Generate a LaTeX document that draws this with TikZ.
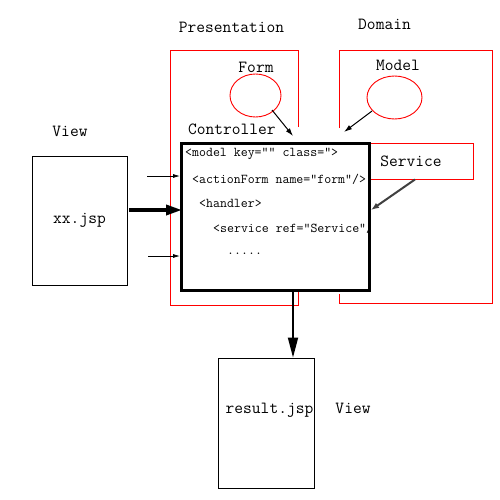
\documentclass[tikz,border=0pt]{standalone}
\usepackage{fontspec}
\usetikzlibrary{arrows.meta}
\begin{document}
\begin{tikzpicture}[x=1pt,y=-1pt,
  redline/.style={draw=red, line width=0.9pt},
  lbl/.style={inner sep=0pt, font=\ttfamily\fontsize{17}{17}\selectfont},
  code/.style={inner sep=0pt, anchor=west, font=\ttfamily\fontsize{13.5}{14}\selectfont},
  thinarrow/.style={line width=0.8pt, -{Latex[length=7pt,width=4pt]}},
  box/.style={draw, line width=0.9pt, inner sep=0pt}]
\useasboundingbox[fill=white] (0,0) rectangle (500,500);
% layer frames
\draw[redline] (298,127) -- (298,50) -- (170,50) -- (170,305) -- (298,305) -- (298,292);
\draw[redline] (339,128) -- (339,50) -- (492,50) -- (492,303) -- (339,303) -- (339,294);
% titles
\node[lbl] (tpres) at (231.5,27) {Presentation};
\node[lbl] (tdom) at (384.5,24) {Domain};
\node[lbl] (tview1) at (70,131) {View};
\node[lbl] (tview2) at (353,408) {View};
% form and model
\node[lbl] (tform) at (256,67) {Form};
\node[lbl] (tmodel) at (398,65) {Model};
\draw[redline] (255.5,95.5) ellipse [x radius=25.5, y radius=21.5];
\node[inner sep=0pt, minimum width=51pt, minimum height=43pt] (form) at (255.5,95.5) {};
\draw[redline] (394.5,97.5) ellipse [x radius=27.5, y radius=21.5];
\node[inner sep=0pt, minimum width=55pt, minimum height=43pt] (model) at (394.5,97.5) {};
% service
\node[draw=red, line width=0.9pt, inner sep=0pt, minimum width=124pt, minimum height=36pt, lbl] (service) at (411,161) {Service};
% controller
\node[lbl, anchor=west] (tctrl) at (188,129) {Controller};
\node[draw, line width=3pt, fill=white, inner sep=0pt, minimum width=188pt, minimum height=147pt] (ctrl) at (275.5,217) {};
\begin{scope}
\clip (183,145) rectangle (368,289);
\node[code] (c1) at (185,154) {<model key=”” class=”>};
\node[code] (c2) at (192,179) {<actionForm name=”form”/>};
\node[code] (c3) at (199,203) {<handler>};
\node[code] (c4) at (213,228) {<service ref=”Service”/>};
\node[code] (c5) at (227,254) {.....};
\end{scope}
% views
\node[box, minimum width=95pt, minimum height=129pt, lbl] (xx) at (79.5,220.5) {xx.jsp};
\node[box, minimum width=96pt, minimum height=130pt] (res) at (266,423) {};
\node[lbl] (tres) at (269.5,410) {result.jsp};
% arrows
\coordinate (a1s) at (147,176);
\coordinate (a1e) at (180,176);
\coordinate (a3s) at (148,256);
\coordinate (a3e) at (180,256);
\coordinate (a2s) at (129,210);
\coordinate (a2e) at (182,210);
\draw[thinarrow] (a1s) -- (a1e);
\draw[thinarrow] (a3s) -- (a3e);
\draw[line width=3.5pt, -{Triangle[length=16pt,width=10pt]}] (a2s) -- (a2e);
\coordinate (fe) at (293,136);
\coordinate (me) at (344,132);
\draw[line width=1pt, -{Latex[length=8pt,width=5pt]}] (272,110) -- (fe);
\draw[line width=1pt, -{Latex[length=8pt,width=5pt]}] (372,111) -- (me);
\coordinate (se) at (371,210);
\draw[line width=2pt, draw=black!75, -{Latex[length=8pt,width=6pt]}] ([xshift=4pt]service.south) -- (se);
\coordinate (ds) at (293,292);
\draw[line width=1.8pt, -{Triangle[length=20pt,width=10pt]}] (ds) -- (res.north -| ds);
\end{tikzpicture}
\end{document}
